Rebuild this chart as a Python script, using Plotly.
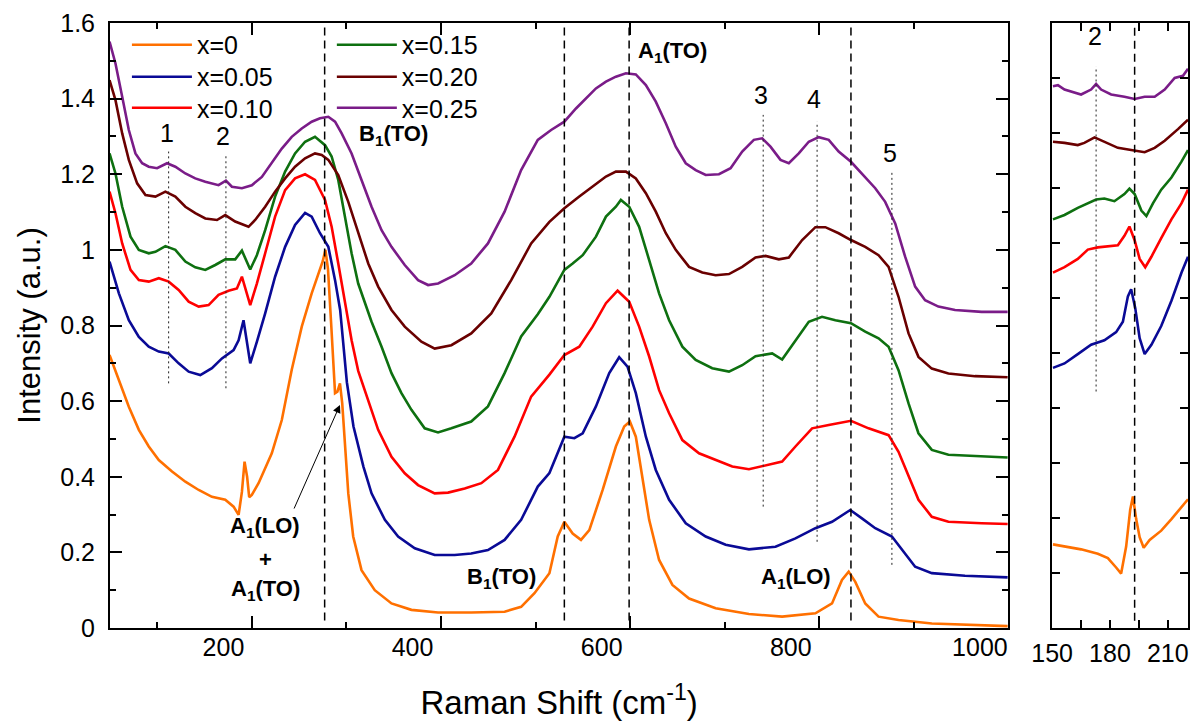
import plotly.graph_objects as go

# ---------------- data ----------------
series_names = ["x=0", "x=0.05", "x=0.10", "x=0.15", "x=0.20", "x=0.25"]
series_colors = ["#FF7000", "#0A0A96", "#FF0000", "#0E7010", "#6A0000", "#7A1C88"]

# main panel (Raman shift 50-1000 cm-1)
x0_main = [49.5, 59.4, 69.9, 80.5, 91, 101.6, 115.6, 129.7, 143.8, 157.8, 171.9, 180.7, 186, 189.5, 192.3, 195, 197.2,
           200, 207.1, 221.1, 231.7, 242.2, 252.8, 263.3, 271.4, 275, 277.8, 280.5, 284, 288, 290.5, 293.2, 295.6,
           298.5, 302, 307.2, 316, 330, 347.7, 368.8, 396.9, 432, 467.3, 484.8, 498.9, 514.7, 523.5, 530.5, 539.3,
           548.1, 556.9, 571, 585, 593.8, 599.8, 606.1, 613.2, 620.2, 630.7, 644.8, 662.4, 690.5, 725.7, 760.8, 796,
           813.6, 824.1, 831.2, 838.2, 848.7, 862.8, 883.9, 919.1, 960, 999.3]
y0_main = [0.722, 0.656, 0.585, 0.524, 0.48, 0.444, 0.414, 0.387, 0.365, 0.347, 0.339, 0.321, 0.299, 0.36, 0.44, 0.40,
           0.346, 0.352, 0.383, 0.462, 0.55, 0.683, 0.797, 0.885, 0.94, 0.97, 1.0, 0.95, 0.80, 0.621, 0.625, 0.647,
           0.594, 0.48, 0.356, 0.242, 0.153, 0.1, 0.065, 0.048, 0.041, 0.041, 0.043, 0.056, 0.092, 0.145, 0.242,
           0.281, 0.25, 0.233, 0.259, 0.365, 0.48, 0.533, 0.546, 0.506, 0.4, 0.286, 0.18, 0.114, 0.078, 0.052, 0.037,
           0.03, 0.039, 0.065, 0.127, 0.149, 0.122, 0.065, 0.03, 0.021, 0.012, 0.008, 0.005]

x1_main = [49.5, 59.4, 69.9, 80.5, 91, 101.6, 112.1, 122.6, 133.2, 145.5, 157.8, 168.4, 180.7, 186, 191.2, 198.3, 205.3,
           214.1, 224.6, 235.2, 245.7, 256.3, 263.3, 272.1, 280.9, 288, 293.4, 300.5, 307.5, 318, 326.6, 340.7, 354.7,
           372.3, 393.4, 414.5, 432, 449.7, 467.3, 484.8, 502.4, 514.7, 530.5, 541.1, 549.9, 563.9, 578, 588.5, 597.3,
           606.1, 616.7, 627.2, 641.3, 658.9, 680, 701.1, 725.7, 753.8, 774.9, 796, 813.6, 824.1, 832.9, 845.2, 859.3,
           876.9, 887.4, 901.5, 919.1, 954.2, 999.3]
y1_main = [0.969, 0.885, 0.814, 0.77, 0.744, 0.731, 0.726, 0.7, 0.678, 0.669, 0.687, 0.713, 0.735, 0.761, 0.814, 0.7,
           0.757, 0.832, 0.929, 1.008, 1.066, 1.098, 1.088, 1.044, 1.008, 0.92, 0.841, 0.65, 0.533, 0.427, 0.356,
           0.286, 0.242, 0.211, 0.193, 0.193, 0.197, 0.206, 0.233, 0.286, 0.374, 0.41, 0.506, 0.502, 0.515, 0.586,
           0.674, 0.716, 0.691, 0.621, 0.506, 0.418, 0.339, 0.277, 0.242, 0.22, 0.208, 0.215, 0.237, 0.264, 0.281,
           0.299, 0.312, 0.29, 0.264, 0.242, 0.207, 0.162, 0.145, 0.138, 0.134]

x2_main = [49.5, 55.8, 62.9, 71.7, 80.5, 91, 101.6, 112.1, 122.6, 133.2, 143.8, 154.3, 164.8, 175.4, 184.2, 189.5, 198.3,
           205.3, 214.1, 224.6, 235.2, 245.7, 256.3, 266.8, 277.4, 284.4, 291.4, 298.5, 305.5, 312.5, 323.1, 333.6,
           347.7, 361.7, 375.8, 393.4, 407.5, 425.1, 442.7, 460.3, 477.8, 495.4, 514.7, 530.5, 546.3, 560.4, 574.5,
           586.8, 599.1, 609.6, 620.2, 630.7, 641.3, 655.3, 672.9, 690.5, 708.1, 725.7, 743.3, 760.8, 774.9, 792.5,
           810.1, 833.6, 852.2, 873.4, 883.9, 894.5, 905, 919.1, 936.7, 971.8, 999.3]
y2_main = [1.154, 1.097, 1.017, 0.947, 0.92, 0.916, 0.925, 0.916, 0.894, 0.863, 0.85, 0.854, 0.881, 0.892, 0.898, 0.929,
           0.854, 0.911, 0.991, 1.088, 1.158, 1.189, 1.2, 1.185, 1.132, 1.061, 0.964, 0.867, 0.761, 0.68, 0.603, 0.524,
           0.453, 0.409, 0.378, 0.356, 0.358, 0.369, 0.383, 0.418, 0.506, 0.612, 0.67, 0.722, 0.744, 0.797, 0.859,
           0.892, 0.863, 0.797, 0.718, 0.629, 0.568, 0.497, 0.462, 0.444, 0.427, 0.42, 0.431, 0.44, 0.48, 0.528, 0.537,
           0.548, 0.528, 0.51, 0.466, 0.4, 0.339, 0.294, 0.281, 0.277, 0.275]

x3_main = [49.5, 55.8, 62.9, 71.7, 80.5, 91, 98, 108.6, 119.1, 129.7, 140.2, 150.8, 161.3, 171.9, 182.4, 189.5, 198.3,
           205.3, 214.1, 224.6, 235.2, 245.7, 256.3, 266.8, 277.4, 284.4, 291.4, 298.5, 305.5, 312.5, 319.6, 326.6,
           337.2, 347.7, 358.2, 368.8, 382.8, 396.9, 411, 432, 449.7, 467.3, 484.8, 502.4, 514.7, 530.5, 539.3, 549.9,
           563.9, 574.5, 585, 590.3, 599.1, 609.6, 620.2, 630.7, 641.3, 655.3, 669.4, 686.9, 704.6, 718.6, 732.7,
           750.3, 760.8, 774.9, 789, 803, 817.1, 833.6, 848.7, 862.8, 873.4, 883.9, 894.5, 905, 919.1, 936.7, 971.8,
           999.3]
y3_main = [1.255, 1.202, 1.114, 1.035, 1.0, 0.991, 0.995, 1.01, 1.0, 0.969, 0.954, 0.947, 0.96, 0.975, 0.975, 0.998,
           0.948, 0.986, 1.052, 1.141, 1.207, 1.255, 1.286, 1.299, 1.277, 1.247, 1.185, 1.088, 0.991, 0.911, 0.86,
           0.81, 0.744, 0.674, 0.621, 0.577, 0.528, 0.517, 0.528, 0.546, 0.586, 0.674, 0.771, 0.83, 0.876, 0.947,
           0.964, 0.986, 1.035, 1.088, 1.114, 1.132, 1.114, 1.061, 0.973, 0.885, 0.814, 0.744, 0.709, 0.687, 0.678,
           0.695, 0.719, 0.726, 0.71, 0.761, 0.81, 0.823, 0.814, 0.806, 0.784, 0.766, 0.744, 0.682, 0.594, 0.515,
           0.471, 0.458, 0.453, 0.451]

x4_main = [49.5, 55.8, 62.9, 69.9, 78.7, 87.5, 98, 108.6, 119.1, 129.7, 140.2, 150.8, 163.1, 171.9, 182.4, 196.5, 203.5,
           214.1, 224.6, 235.2, 245.7, 256.3, 266.8, 273.9, 280.9, 291.4, 302, 312.5, 323.1, 333.6, 347.7, 361.7, 379.3,
           393.4, 411, 432, 453.2, 474.3, 495.4, 514.7, 530.5, 546.3, 560.4, 574.5, 585, 595.6, 606.1, 616.7, 627.2,
           637.8, 648.3, 662.4, 676.4, 690.5, 704.6, 718.6, 732.7, 743.3, 757.3, 767.9, 782, 796, 806.5, 820.6, 833.6,
           848.7, 862.8, 873.4, 883.9, 894.5, 905, 919.1, 936.7, 964.8, 999.3]
y4_main = [1.449, 1.396, 1.308, 1.238, 1.176, 1.145, 1.141, 1.154, 1.141, 1.114, 1.097, 1.083, 1.079, 1.092, 1.075, 1.061,
           1.079, 1.114, 1.154, 1.189, 1.22, 1.242, 1.255, 1.251, 1.238, 1.198, 1.127, 1.044, 0.964, 0.903, 0.841,
           0.797, 0.757, 0.739, 0.748, 0.779, 0.832, 0.92, 1.017, 1.074, 1.11, 1.141, 1.167, 1.194, 1.207, 1.207,
           1.189, 1.15, 1.101, 1.044, 1.0, 0.955, 0.94, 0.933, 0.936, 0.955, 0.98, 0.984, 0.975, 0.98, 1.026, 1.06,
           1.06, 1.044, 1.026, 1.008, 0.986, 0.955, 0.876, 0.779, 0.717, 0.686, 0.673, 0.666, 0.663]

x5_main = [49.5, 55.8, 62.9, 69.9, 76.9, 84, 91, 99.8, 110.3, 119.1, 129.7, 140.2, 150.8, 164.8, 172.6, 178.9, 189.5, 200,
           210.6, 221.1, 231.7, 242.2, 252.8, 263.3, 272.1, 280.9, 288, 295, 305.5, 316, 326.6, 337.2, 347.7, 361.7,
           375.8, 386.4, 397, 414.5, 432, 449.7, 467.3, 484.8, 502.4, 516.5, 530.5, 542.8, 553.4, 563.9, 574.5, 585,
           595.6, 606.1, 616.7, 627.2, 637.8, 648.3, 658.9, 669.4, 680, 694, 706.3, 718.6, 730.9, 739.7, 748.5, 759.1,
           767.9, 778.4, 789, 799.5, 810.1, 820.6, 833.6, 845.2, 859.3, 869.8, 880.4, 890.9, 901.5, 912, 926.1, 943.7,
           971.8, 999.3]
y5_main = [1.551, 1.493, 1.405, 1.317, 1.255, 1.229, 1.22, 1.216, 1.229, 1.22, 1.202, 1.189, 1.18, 1.171, 1.183, 1.167,
           1.163, 1.171, 1.193, 1.229, 1.268, 1.299, 1.321, 1.339, 1.348, 1.352, 1.339, 1.308, 1.255, 1.185, 1.114,
           1.052, 1.008, 0.96, 0.92, 0.907, 0.911, 0.933, 0.964, 1.017, 1.101, 1.211, 1.291, 1.317, 1.339, 1.374,
           1.401, 1.427, 1.445, 1.458, 1.467, 1.464, 1.436, 1.392, 1.335, 1.273, 1.229, 1.211, 1.198, 1.2, 1.216,
           1.26, 1.291, 1.295, 1.273, 1.238, 1.229, 1.255, 1.286, 1.298, 1.291, 1.26, 1.233, 1.202, 1.163, 1.127,
           1.07, 0.982, 0.903, 0.867, 0.85, 0.841, 0.836, 0.836]

# inset panel (150-220 cm-1), its own intensity scale
x0_ins = [150.4, 156.4, 165.0, 173.7, 178.9, 183.2, 185.8, 188.4, 190.5, 191.9, 193.6, 195.4, 197.5, 200.6, 206.6, 211.9,
          217.1, 220.5]
y0_ins = [0.152, 0.148, 0.143, 0.135, 0.127, 0.11, 0.099, 0.148, 0.215, 0.239, 0.198, 0.165, 0.146, 0.16, 0.177, 0.198,
          0.219, 0.234]
x1_ins = [150.4, 156.4, 163.3, 170.2, 177.1, 183.2, 186.7, 189.3, 191.0, 193.1, 195.4, 198.0, 201.5, 206.6, 211.9, 217.1,
          220.5]
y1_ins = [0.473, 0.481, 0.498, 0.515, 0.523, 0.538, 0.557, 0.603, 0.616, 0.582, 0.527, 0.498, 0.515, 0.549, 0.595, 0.646,
          0.675]
x2_ins = [150.4, 156.4, 163.3, 168.5, 173.7, 178.9, 184.1, 187.5, 190.1, 192.8, 195.4, 198.3, 201.5, 206.6, 211.9, 217.1,
          220.5]
y2_ins = [0.646, 0.656, 0.671, 0.688, 0.692, 0.694, 0.696, 0.713, 0.73, 0.705, 0.671, 0.656, 0.675, 0.709, 0.743, 0.772,
          0.797]
x3_ins = [150.4, 156.4, 163.3, 168.5, 172.8, 177.1, 182.3, 187.5, 190.1, 192.8, 196.3, 198.9, 202.3, 206.6, 211.9, 217.1,
          220.5]
y3_ins = [0.743, 0.751, 0.764, 0.772, 0.779, 0.781, 0.776, 0.789, 0.799, 0.789, 0.759, 0.749, 0.772, 0.797, 0.819, 0.848,
          0.869]
x4_ins = [150.4, 156.4, 163.3, 166.7, 172.0, 178.9, 184.1, 191.0, 198.0, 203.2, 208.4, 215.3, 220.5]
y4_ins = [0.884, 0.882, 0.878, 0.882, 0.892, 0.882, 0.873, 0.869, 0.865, 0.873, 0.886, 0.907, 0.924]
x5_ins = [150.4, 153.0, 156.4, 165.0, 170.2, 172.8, 175.4, 180.6, 187.5, 192.8, 198.0, 203.2, 208.4, 213.6, 217.9, 220.5]
y5_ins = [0.985, 0.987, 0.979, 0.97, 0.979, 0.989, 0.979, 0.97, 0.966, 0.962, 0.966, 0.966, 0.979, 1.0, 1.004, 1.017]

main_x = [x0_main, x1_main, x2_main, x3_main, x4_main, x5_main]
main_y = [y0_main, y1_main, y2_main, y3_main, y4_main, y5_main]
ins_x = [x0_ins, x1_ins, x2_ins, x3_ins, x4_ins, x5_ins]
ins_y = [y0_ins, y1_ins, y2_ins, y3_ins, y4_ins, y5_ins]

# axis ticks
main_tick_vals = [200, 400, 600, 800, 1000]
main_minor_vals = [100, 300, 500, 700, 900]
main_tick_text = ["200", "400", "600", "800", "1000"]
label_shift = -30  # tick labels in the original are printed left of their ticks
ins_tick_vals = [150, 180, 210]
ins_minor_vals = [165, 195]
y_tick_vals = [0, 0.2, 0.4, 0.6, 0.8, 1.0, 1.2, 1.4, 1.6]

# mode markers
dashed_pos = [277, 530.5, 599, 833.6]
dotted_pos = [112, 172.6, 740.8, 797.8, 876.9]
dotted_lo = [0.647, 0.634, 0.321, 0.228, 0.167]
dotted_hi = [1.26, 1.255, 1.357, 1.339, 1.207]
dotted_lbl = ["1", "2", "3", "4", "5"]
dotted_lbl_x = [110, 170, 738.7, 794, 875]
dotted_lbl_y = [1.308, 1.30, 1.41, 1.40, 1.255]
ins_dashed_pos = 192.8
ins_dotted_pos = 172.8

mode_labels = ["<b>B<sub>1</sub>(TO)</b>", "<b>A<sub>1</sub>(TO)</b>", "<b>B<sub>1</sub>(TO)</b>",
               "<b>A<sub>1</sub>(LO)</b>", "<b>A<sub>1</sub>(LO)</b>", "<b>+</b>", "<b>A<sub>1</sub>(TO)</b>"]
mode_label_x = [350, 644.8, 463.7, 775.6, 214, 214, 214]
mode_label_y = [1.304, 1.524, 0.131, 0.131, 0.268, 0.18, 0.10]

# legend placement (one small legend per entry, paper coords)
legend_x = [0.0157, 0.0157, 0.0157, 0.2058, 0.2058, 0.2058]
legend_y = [1.0017, 0.9488, 0.8975, 1.0017, 0.9488, 0.8975]

# ---------------- figure ----------------
FONT = "Liberation Sans, Arial, sans-serif"
fig = go.Figure()

legend_ids = ["legend", "legend2", "legend3", "legend4", "legend5", "legend6"]
for i in range(6):
    fig.add_trace(go.Scatter(
        x=main_x[i], y=main_y[i], mode="lines", name=series_names[i],
        line=dict(color=series_colors[i], width=2.6),
        legend=legend_ids[i], xaxis="x", yaxis="y"))
for i in range(6):
    fig.add_trace(go.Scatter(
        x=ins_x[i], y=ins_y[i], mode="lines", name=series_names[i], showlegend=False,
        line=dict(color=series_colors[i], width=2.6), xaxis="x2", yaxis="y2"))
# empty trace so the overlay label axis is drawn
fig.add_trace(go.Scatter(x=[], y=[], xaxis="x3", yaxis="y", showlegend=False, hoverinfo="skip"))

shapes = []
for p in dashed_pos:
    shapes.append(dict(type="line", xref="x", yref="y", x0=p, x1=p, y0=0.02, y1=1.6,
                       line=dict(color="black", width=1.5, dash="8px,5px")))
for p, lo, hi in zip(dotted_pos, dotted_lo, dotted_hi):
    shapes.append(dict(type="line", xref="x", yref="y", x0=p, x1=p, y0=lo, y1=hi,
                       line=dict(color="#222", width=1, dash="2px,3px")))
shapes.append(dict(type="line", xref="x2", yref="y2", x0=ins_dashed_pos, x1=ins_dashed_pos, y0=0.013, y1=1.1,
                   line=dict(color="black", width=1.5, dash="8px,5px")))
shapes.append(dict(type="line", xref="x2", yref="y2", x0=ins_dotted_pos, x1=ins_dotted_pos, y0=0.43, y1=1.021,
                   line=dict(color="#222", width=1, dash="2px,3px")))

annotations = []
for t, x, y in zip(dotted_lbl, dotted_lbl_x, dotted_lbl_y):
    annotations.append(dict(text=t, x=x, y=y, xref="x", yref="y", showarrow=False,
                            font=dict(family=FONT, size=25, color="black")))
for t, x, y in zip(mode_labels, mode_label_x, mode_label_y):
    annotations.append(dict(text=t, x=x, y=y, xref="x", yref="y", showarrow=False,
                            font=dict(family=FONT, size=22, color="black")))
annotations.append(dict(text="2", x=172, y=1.076, xref="x2", yref="y2", showarrow=False,
                        font=dict(family=FONT, size=25, color="black")))
# arrow pointing at the A1(LO)+A1(TO) feature
annotations.append(dict(text="", x=293.2, y=0.59, ax=244, ay=0.312, xref="x", yref="y", axref="x", ayref="y",
                        showarrow=True, arrowhead=2, arrowsize=1.6, arrowwidth=1, arrowcolor="black"))

axis_common = dict(showline=True, linecolor="black", linewidth=2, mirror="ticks", showgrid=False,
                   zeroline=False, ticks="inside", tickcolor="black", tickwidth=1.5)

legend_layout = {}
for i, lid in enumerate(legend_ids):
    legend_layout[lid] = dict(x=legend_x[i], y=legend_y[i], xanchor="left", yanchor="top",
                              bgcolor="rgba(0,0,0,0)", borderwidth=0,
                              font=dict(family=FONT, size=25, color="black"), itemwidth=60)

fig.update_layout(
    width=1195, height=727,
    margin=dict(l=110, r=5, t=23, b=99),
    paper_bgcolor="white", plot_bgcolor="white",
    font=dict(family=FONT, color="black"),
    shapes=shapes, annotations=annotations,
    xaxis=dict(domain=[0, 0.8333], range=[50, 1000], tickvals=main_tick_vals, showticklabels=False,
               ticklen=12, minor=dict(tickvals=main_minor_vals, ticks="inside", ticklen=6, tickcolor="black",
                                      tickwidth=1.5),
               anchor="y", **axis_common),
    xaxis3=dict(overlaying="x", range=[50, 1000], anchor="y", side="bottom",
                tickvals=[v + label_shift for v in main_tick_vals], ticktext=main_tick_text, ticks="",
                showline=False, showgrid=False, zeroline=False, ticklabelstandoff=2,
                tickfont=dict(family=FONT, size=25, color="black"),
                title=dict(text="Raman Shift (cm<sup>-1</sup>)", font=dict(family=FONT, size=33, color="black"),
                           standoff=30)),
    yaxis=dict(domain=[0, 1], range=[0, 1.6], tickvals=y_tick_vals, ticklen=12,
               minor=dict(dtick=0.1, ticks="inside", ticklen=6, tickcolor="black", tickwidth=1.5),
               tickfont=dict(family=FONT, size=25, color="black"), ticklabelstandoff=8,
               title=dict(text="Intensity (a.u.)", font=dict(family=FONT, size=31, color="black"), standoff=10),
               anchor="x", **axis_common),
    xaxis2=dict(domain=[0.874, 1.0], range=[150, 220.5], tickvals=ins_tick_vals, ticklen=8,
                minor=dict(tickvals=ins_minor_vals, ticks="inside", ticklen=8, tickcolor="black", tickwidth=1.5),
                tickfont=dict(family=FONT, size=25, color="black"), ticklabelstandoff=2,
                anchor="y2", **axis_common),
    yaxis2=dict(domain=[0, 1], range=[0, 1.1], dtick=0.1, tick0=0, showticklabels=False, ticklen=8,
                anchor="x2", **axis_common),
    showlegend=True,
    **legend_layout,
)

fig.write_html("out.html", config={"displayModeBar": False},
               post_script="document.body.style.margin='0';document.body.style.overflow='hidden';")
